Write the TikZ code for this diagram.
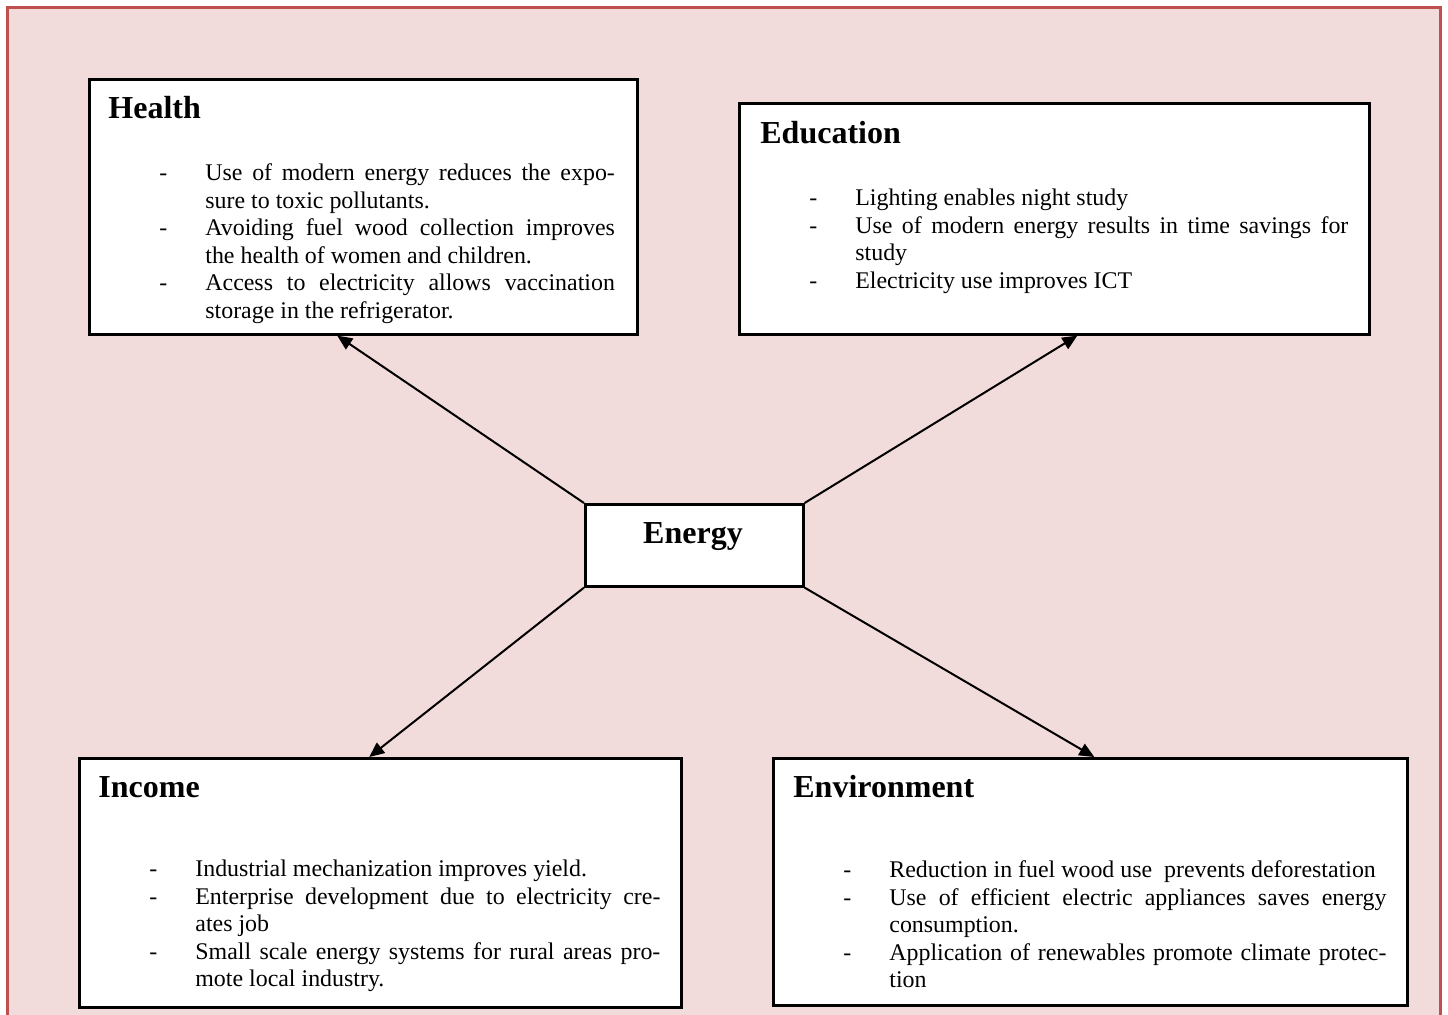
\documentclass[tikz,border=0pt]{standalone}
\usepackage{fontspec}
\setmainfont{Liberation Serif}
\usetikzlibrary{arrows.meta,calc}
\definecolor{bgpink}{HTML}{F2DBDB}
\definecolor{framered}{HTML}{C0504D}
\newcommand\ditem[1]{\par\noindent\hangindent=23pt\hangafter=1\makebox[23pt][l]{-}#1\par}
\tikzset{
  box/.style={draw=black, line width=1.3pt, fill=white, inner sep=0pt, anchor=north west},
  head/.style={anchor=base west, inner sep=0pt, font=\fontsize{16}{19}\selectfont\bfseries},
  itemlist/.style={anchor=base west, inner sep=0pt, align=justify, font=\fontsize{11.95}{13.75}\selectfont, text width=#1},
  arr/.style={line width=1pt, -{Triangle[length=7.5pt,width=6.5pt]}}
}
\begin{document}
\begin{tikzpicture}[x=0.5pt,y=-0.5pt]
\clip (0,0) rectangle (1448,1014);
\fill[white] (0,0) rectangle (1448,1014);
\draw[framered, fill=bgpink, line width=1.5pt] (7.5,7.5) rectangle (1440.5,1040);

% boxes
\node[box, minimum width=274pt, minimum height=127.5pt] (h) at (88,78) {};
\node[box, minimum width=315pt, minimum height=115.5pt] (ed) at (738,102) {};
\node[box, minimum width=109pt, minimum height=41pt] (e) at (584,503) {};
\node[box, minimum width=301pt, minimum height=124.5pt] (inc) at (78,757) {};
\node[box, minimum width=317pt, minimum height=123.5pt] (env) at (772,757) {};

% headings
\node[head] (hh) at (108,118) {Health};
\node[head] (edh) at (760,143) {Education};
\node[head] (inch) at (98,797) {Income};
\node[head] (envh) at (793,797) {Environment};
\node[head, anchor=base] (et) at (693,543) {Energy};

% lists
\node[itemlist=227.75pt] (hl) at (159,153) {%
\ditem{Use of modern energy reduces the expo-\linebreak sure to toxic pollutants.}%
\ditem{Avoiding fuel wood collection improves\linebreak the health of women and children.}%
\ditem{Access to electricity allows vaccination\linebreak storage in the refrigerator.}};

\node[itemlist=269.5pt] (edl) at (809,178) {%
\ditem{Lighting enables night study}%
\ditem{Use of modern energy results in time savings for\linebreak study}%
\ditem{Electricity use improves ICT}};

\node[itemlist=255.5pt] (incl) at (149,849) {%
\ditem{Industrial mechanization improves yield.}%
\ditem{Enterprise development due to electricity cre-\linebreak ates job}%
\ditem{Small scale energy systems for rural areas pro-\linebreak mote local industry.}};

\node[itemlist=271.5pt] (envl) at (843,850) {%
\ditem{Reduction in fuel wood use~ prevents deforestation}%
\ditem{Use of efficient electric appliances saves energy\linebreak consumption.}%
\ditem{Application of renewables promote climate protec-\linebreak tion}};

% arrows
\draw[arr] (e.north west) -- ($(h.south west)!0.4526!(h.south east)$);
\draw[arr] (e.north east) -- ($(ed.south west)!0.5365!(ed.south east)$);
\draw[arr] (e.south west) -- ($(inc.north west)!0.4817!(inc.north east)$);
\draw[arr] (e.south east) -- ($(env.north west)!0.5063!(env.north east)$);
\end{tikzpicture}
\end{document}
